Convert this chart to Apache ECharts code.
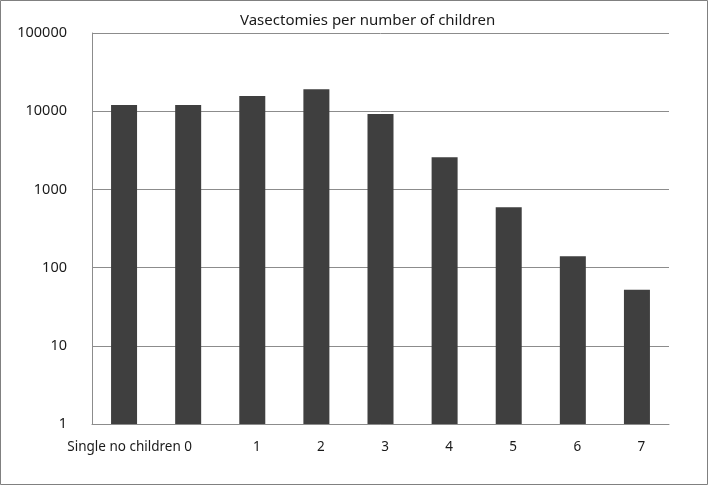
<!DOCTYPE html>
<html>
<head>
<meta charset="utf-8">
<script src="https://cdn.jsdelivr.net/npm/echarts@6/dist/echarts.min.js"></script>
<style>
html,body{margin:0;padding:0;background:#fff;}
#c{width:708px;height:485px;}
</style>
</head>
<body>
<div id="c"></div>
<script>
const categories = ['Single no children', '0', '1', '2', '3', '4', '5', '6', '7'];
const vasectomies = [12000, 12000, 15700, 19100, 9200, 2570, 590, 140, 52];
const titleText = 'Vasectomies per number of children';

const FONT = '"Noto Sans", sans-serif';
const chart = echarts.init(document.getElementById('c'), null, {renderer: 'canvas'});
chart.setOption({
  animation: false,
  backgroundColor: '#fff',
  title: {
    text: titleText,
    left: 235,
    top: 8,
    textStyle: {fontFamily: FONT, fontSize: 15, fontWeight: 'normal', color: '#1a1a1a'}
  },
  graphic: [{
    type: 'rect',
    shape: {x: 0.5, y: 0.5, width: 707, height: 484},
    style: {fill: 'none', stroke: '#808080', lineWidth: 1},
    silent: true
  }],
  grid: {left: 92, right: 39, top: 33, bottom: 61, containLabel: false},
  xAxis: {
    type: 'category',
    data: categories.map(function (c, i) {
      return i < 2 ? {value: c, textStyle: {padding: [0, 0, 0, 0]}} : c;
    }),
    axisLine: {show: true, lineStyle: {color: '#8c8c8c', width: 1}},
    axisTick: {show: false},
    axisLabel: {interval: 0, margin: 16, padding: [0, 0, 0, 9], color: '#1a1a1a', fontFamily: FONT, fontSize: 13.5}
  },
  yAxis: {
    type: 'log',
    logBase: 10,
    min: 1,
    max: 100000,
    axisLine: {show: true, lineStyle: {color: '#8c8c8c', width: 1}},
    axisTick: {show: false},
    splitLine: {show: true, lineStyle: {color: '#8c8c8c', width: 1}},
    axisLabel: {margin: 25, color: '#1a1a1a', fontFamily: FONT, fontSize: 14.5,
      formatter: function (v) { return String(Math.round(v)); }}
  },
  series: [{
    type: 'bar',
    data: vasectomies,
    barWidth: 26,
    itemStyle: {color: '#3f3f3f'}
  }]
});
</script>
</body>
</html>
